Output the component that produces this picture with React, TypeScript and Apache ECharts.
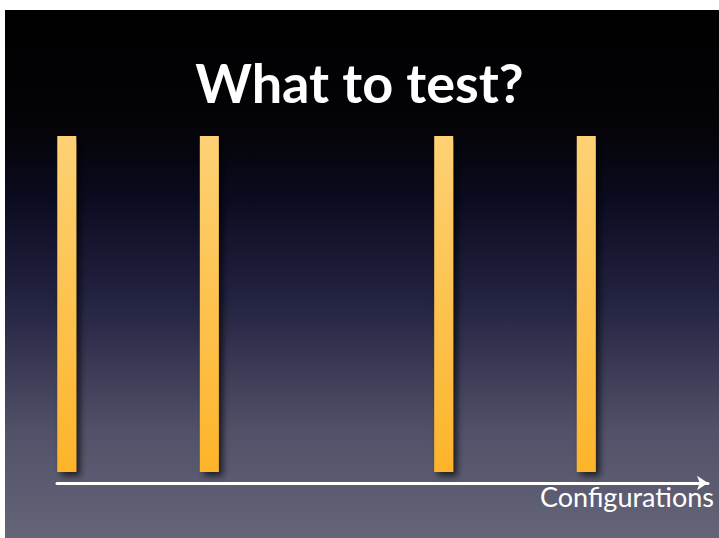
import React, { useEffect, useRef } from "react";
import * as echarts from "echarts";

const titleText = "What to test?";
const axisName = "Configurations";
const configPositions = [1.5, 23.4, 59.4, 81.3];
const configValues = [1, 1, 1, 1];

export default function App() {
  const ref = useRef<HTMLDivElement>(null);
  useEffect(() => {
    if (!ref.current) return;
    const chart = echarts.init(ref.current, undefined, { renderer: "svg" });
    const data = configPositions.map((x, i) => [x, configValues[i]]);
    chart.setOption({
      animation: false,
      backgroundColor: "#ffffff",
      graphic: [
        {
          type: "rect",
          z: -10,
          silent: true,
          shape: { x: 5, y: 10, width: 714, height: 528 },
          style: {
            fill: new echarts.graphic.LinearGradient(0, 0, 0, 1, [
              { offset: 0, color: "#000000" },
              { offset: 0.23, color: "#040409" },
              { offset: 0.36, color: "#0b0b21" },
              { offset: 0.55, color: "#232342" },
              { offset: 0.8, color: "#515169" },
              { offset: 1, color: "#656578" },
            ]),
          },
        },
      ],
      title: {
        text: titleText,
        left: "center",
        top: 50,
        textStyle: {
          color: "#ffffff",
          fontSize: 54,
          fontWeight: "bold",
          fontFamily: "Lato",
        },
      },
      grid: { left: 57, right: 11, top: 136, bottom: 66 },
      xAxis: {
        type: "value",
        min: 0,
        max: 100,
        offset: 11,
        name: axisName,
        nameLocation: "end",
        nameGap: 6,
        nameTextStyle: {
          color: "#ffffff",
          fontSize: 27,
          fontFamily: "Lato",
          align: "right",
          verticalAlign: "top",
          padding: [0, 0, 0, 0],
        },
        axisLine: {
          show: true,
          onZero: false,
          symbol: ["none", "arrow"],
          symbolSize: [11, 11],
          lineStyle: { color: "#ffffff", width: 3 },
        },
        axisTick: { show: false },
        axisLabel: { show: false },
        splitLine: { show: false },
      },
      yAxis: {
        type: "value",
        min: 0,
        max: 1,
        show: false,
      },
      series: [
        {
          type: "bar",
          data,
          barWidth: 19,
          itemStyle: {
            color: new echarts.graphic.LinearGradient(0, 0, 0, 1, [
              { offset: 0, color: "#fdd174" },
              { offset: 1, color: "#fdb42a" },
            ]),
            shadowColor: "rgba(0,0,0,0.65)",
            shadowBlur: 6,
            shadowOffsetX: 4,
            shadowOffsetY: 4,
          },
        },
      ],
    });
    return () => chart.dispose();
  }, []);
  return (
    <div
      ref={ref}
      style={{ position: "fixed", left: 0, top: 0, width: 719, height: 538 }}
    />
  );
}
